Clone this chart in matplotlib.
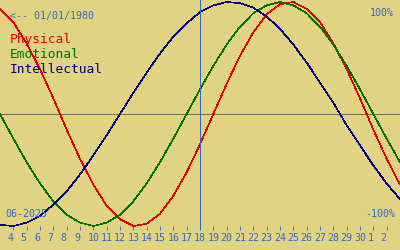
import matplotlib
matplotlib.use("Agg")
import matplotlib.pyplot as plt
from matplotlib import transforms

# ---- data: June 3 .. July 3, 2025 ----
day_labels = ["3", "4", "5", "6", "7", "8", "9", "10", "11", "12", "13", "14", "15", "16",
              "17", "18", "19", "20", "21", "22", "23", "24", "25", "26", "27", "28",
              "29", "30", "1", "2", "3"]
physical = [0.94, 0.82, 0.63, 0.40, 0.14, -0.14, -0.40, -0.63, -0.82, -0.94, -1.00,
            -0.98, -0.89, -0.73, -0.52, -0.27, 0.00, 0.27, 0.52, 0.73, 0.89, 0.98,
            1.00, 0.94, 0.82, 0.63, 0.40, 0.14, -0.14, -0.40, -0.63]
emotional = [0.00, -0.22, -0.43, -0.62, -0.78, -0.90, -0.97, -1.00, -0.97, -0.90,
             -0.78, -0.62, -0.43, -0.22, 0.00, 0.22, 0.43, 0.62, 0.78, 0.90, 0.97,
             1.00, 0.97, 0.90, 0.78, 0.62, 0.43, 0.22, 0.00, -0.22, -0.43]
intellectual = [-0.99, -1.00, -0.97, -0.91, -0.81, -0.69, -0.54, -0.37, -0.19, 0.00,
                0.19, 0.37, 0.54, 0.69, 0.81, 0.91, 0.97, 1.00, 0.99, 0.95, 0.87,
                0.76, 0.62, 0.46, 0.28, 0.10, -0.10, -0.28, -0.46, -0.62, -0.76]
selected_index = 15          # June 18
birth_text = "<-- 01/01/1980"
month_text = "06-2025"
series_names = ["Physical", "Emotional", "Intellectual"]

BG = "#E0D382"
BLUE = "#3366CC"
colors = ["#E00000", "#007000", "#000080"]
mono = "DejaVu Sans Mono"
LW = 0.45

W, H = 400, 250
fig = plt.figure(figsize=(W / 100, H / 100), dpi=100, facecolor=BG)
ax = fig.add_axes([0, 20 / H, 1, 230 / H])
ax.set_facecolor(BG)
for s in ax.spines.values():
    s.set_visible(False)

x = list(range(len(day_labels)))
for vals, c in zip([physical, emotional, intellectual], colors):
    ax.plot(x, vals, color=c, lw=LW, antialiased=False, zorder=3)

ax.set_xlim(0, len(day_labels) - 1)
ax.set_ylim(-1.0357, 1.0179)
ax.axhline(0, color="#6A6E60", lw=LW, antialiased=False, zorder=2)
ax.axvline(selected_index, color=BLUE, lw=LW, antialiased=False, zorder=4)

# day ticks
tick_idx = x[1:-1]
ax.set_xticks(tick_idx)
ax.set_xticklabels([])
ax.tick_params(axis="x", direction="in", length=3.0, width=0.6, color=BLUE, pad=0)
ax.set_yticks([])

base = transforms.blended_transform_factory(ax.transData, ax.transAxes)
lab_tr = transforms.offset_copy(base, fig=fig, x=-6, y=-11, units="dots")
for i in tick_idx:
    ax.text(i, 0, day_labels[i], transform=lab_tr, ha="left", va="baseline",
            color=BLUE, fontsize=7.2, family=mono)

def ftext(px, py, s, **kw):
    fig.text(px / W, 1 - py / H, s, va="baseline", family=mono, **kw)

ftext(10, 19.5, birth_text, color=BLUE, fontsize=7.2)
for k, (name, c) in enumerate(zip(series_names, colors)):
    ftext(10, 42.7 + 15 * k, name, color=c, fontsize=9.3)
ftext(394, 16, "100%", color=BLUE, fontsize=7.2, ha="right")
ftext(395, 217, "-100%", color=BLUE, fontsize=7.2, ha="right")
ftext(5, 217, month_text, color=BLUE, fontsize=7.2)

fig.savefig("out.png", dpi=100, facecolor=BG)
